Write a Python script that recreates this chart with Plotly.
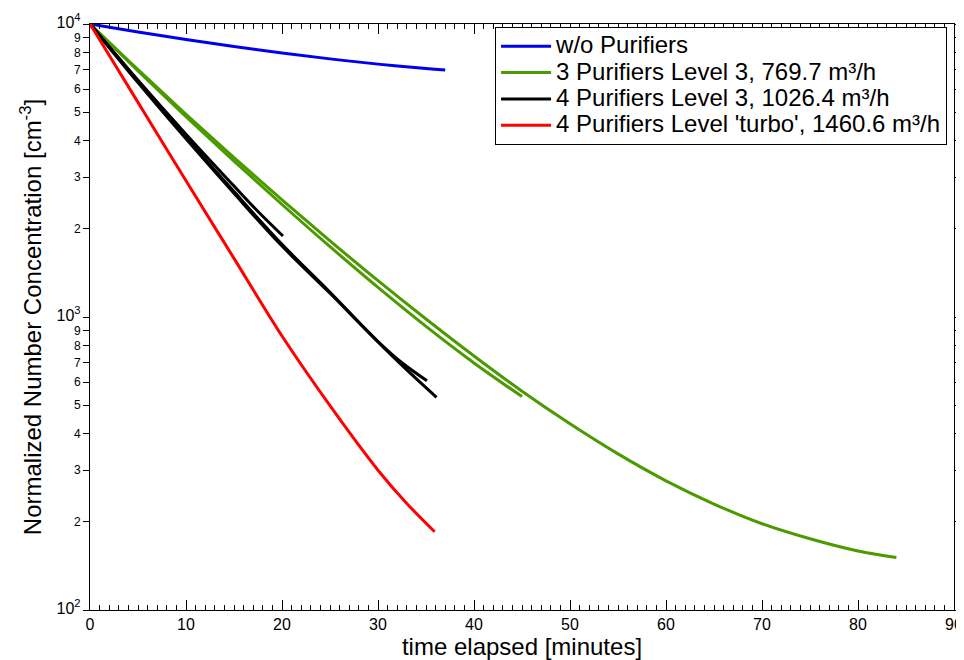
import plotly.graph_objects as go

# ---- data ----
blue_t = [0, 5, 10, 15, 20, 25, 30, 35, 37]
blue_v = [10000, 9397, 8851, 8375, 7962, 7603, 7295, 7047, 6966]

green1_t = [0, 5, 10, 15, 20, 25, 30, 35, 40, 45, 50, 55, 60, 65, 70, 75, 80, 84]
green1_v = [10000, 6982, 4920, 3499, 2512, 1820, 1330, 984, 736, 558, 432, 341, 276, 230, 197, 175, 159, 151]

green2_t = [0, 5, 10, 15, 20, 25, 30, 35, 40, 45]
green2_v = [10000, 6918, 4831, 3404, 2421, 1738, 1262, 929, 697, 535]

blackA_t = [0, 5, 10, 15, 20, 25, 30, 32.5, 35.1]
blackA_v = [10000, 6310, 4055, 2642, 1746, 1205, 825, 698, 606]

blackB_t = [0, 5, 10, 15, 20, 25, 30, 33, 36.1]
blackB_v = [10000, 6383, 4111, 2679, 1770, 1215, 822, 660, 532]

blackS_t = [0, 5, 10, 15, 17.5, 20.1]
blackS_v = [10000, 6427, 4207, 2799, 2291, 1890]

red_t = [0, 5, 10, 15, 20, 25, 30, 33, 35.9]
red_v = [10000, 5401, 2917, 1585, 861, 498, 300, 231, 185]

legend_names = ["w/o Purifiers",
                "3 Purifiers Level 3, 769.7 m³/h",
                "4 Purifiers Level 3, 1026.4 m³/h",
                "4 Purifiers Level 'turbo', 1460.6 m³/h"]

x_ticks = [0, 10, 20, 30, 40, 50, 60, 70, 80, 90]
y_tickvals = [100, 200, 300, 400, 500, 600, 700, 800, 900,
              1000, 2000, 3000, 4000, 5000, 6000, 7000, 8000, 9000, 10000]
y_ticktext = ['<span style="font-size:16px">10<sup>2</sup></span>', "2", "3", "4", "5", "6", "7", "8", "9",
              '<span style="font-size:16px">10<sup>3</sup></span>', "2", "3", "4", "5", "6", "7", "8", "9",
              '<span style="font-size:16px">10<sup>4</sup></span>']

BLUE = "#0000ee"
GREEN = "#4a9a00"
BLACK = "#000000"
RED = "#ff0000"

fig = go.Figure()

def add(t, v, color, name, show, group):
    fig.add_trace(go.Scatter(
        x=t, y=v, mode="lines",
        name='<span style="font-size:24px">' + name + '</span>',
        legendgroup=group, showlegend=show,
        line=dict(color=color, width=3, shape="spline", smoothing=1.0)))

add(blue_t, blue_v, BLUE, legend_names[0], True, "b")
add(green1_t, green1_v, GREEN, legend_names[1], True, "g")
add(green2_t, green2_v, GREEN, legend_names[1], False, "g")
add(blackA_t, blackA_v, BLACK, legend_names[2], True, "k")
add(blackB_t, blackB_v, BLACK, legend_names[2], False, "k")
add(blackS_t, blackS_v, BLACK, legend_names[2], False, "k")
add(red_t, red_v, RED, legend_names[3], True, "r")

FONT = "Liberation Sans, Arial, sans-serif"

# the page body adds an 8px offset; margins compensate so the plot area
# lands at x 90..954, y 24..610 in the window
fig.update_layout(
    width=964, height=660,
    margin=dict(l=82, r=18, t=16, b=58),
    paper_bgcolor="white", plot_bgcolor="white",
    font=dict(family=FONT, color="black"),
    showlegend=True,
    legend=dict(
        x=0.4688, y=0.995, xanchor="left", yanchor="top",
        bgcolor="white", bordercolor="black", borderwidth=1,
        font=dict(size=18, family=FONT, color="black"),
        itemwidth=50, tracegroupgap=0,
    ),
)

fig.update_xaxes(
    range=[0, 90], tickvals=x_ticks, ticks="inside", ticklen=10, tickwidth=1,
    tickcolor="black", showline=True, linecolor="black", linewidth=1,
    mirror="ticks", showgrid=False, zeroline=False, automargin=False,
    tickfont=dict(size=16, family=FONT, color="black"),
    minor=dict(dtick=1, ticks="inside", ticklen=5, tickcolor="black", showgrid=False),
    title=dict(text="time elapsed [minutes]", font=dict(size=24, family=FONT, color="black"), standoff=0),
)

fig.update_yaxes(
    type="log", range=[2, 4], tickvals=y_tickvals, ticktext=y_ticktext,
    ticks="outside", ticklen=6, tickwidth=1, tickcolor="black",
    showline=True, linecolor="black", linewidth=1, mirror="ticks",
    showgrid=False, zeroline=False, automargin=False,
    tickfont=dict(size=12, family=FONT, color="black"),
    title=dict(text="Normalized Number Concentration [cm<sup>-3</sup>]",
               font=dict(size=24, family=FONT, color="black"), standoff=8),
)

fig.write_html("out.html")
